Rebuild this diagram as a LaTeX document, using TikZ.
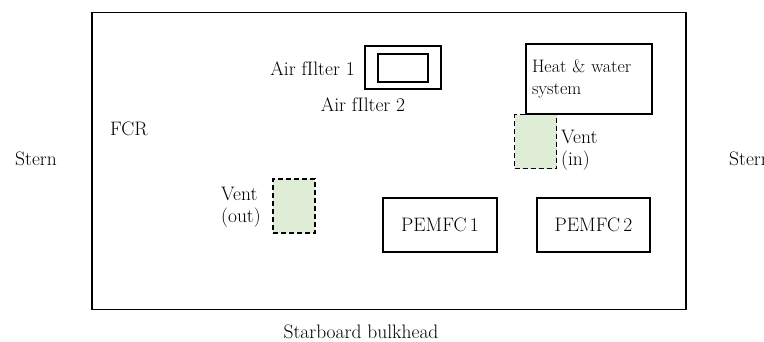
\documentclass[tikz,border=0pt]{standalone}
\usetikzlibrary{positioning}
\definecolor{ventgreen}{RGB}{223,237,215}
\begin{document}
\begin{tikzpicture}[x=1pt,y=-1pt,
  every node/.style={font=\fontsize{19.5}{22}\selectfont, inner sep=0pt},
  unit/.style={draw, line width=1.3pt, minimum width=#1},
  vent/.style={draw, dashed, dash pattern=on 5pt off 3pt, line width=1.4pt, fill=ventgreen,
               minimum width=42pt, minimum height=54pt},
  lbl/.style={align=left}]
  \useasboundingbox (0,0) rectangle (764,342);

  % compartment outline
  \node[draw, line width=1.5pt, minimum width=594pt, minimum height=297pt] (room) at (389,161) {};

  % surroundings
  \node (sternL) at (36,159) {Stern};
  \node[anchor=west] (sternR) at (729,159) {Stern};
  \node (stbd) at (361,332) {Starboard bulkhead};
  \node[anchor=west] (fcr) at (110,129) {FCR};

  % air filters
  \node[unit=76pt, minimum height=43pt] (af1) at (403,67.5) {};
  \node[unit=50pt, minimum height=28pt] (af2) at (403,68) {};
  \node[anchor=east] (af1t) at (355,69) {Air fIlter 1};
  \node (af2t) at (363,105) {Air fIlter 2};

  % heat and water system
  \node[unit=126pt, minimum height=70pt, align=left, text width=114pt, inner xsep=6pt,
        font=\fontsize{18}{22}\selectfont] (hws) at (589,79)
    {Heat \& water\\system};

  % vents
  \node[vent, anchor=north west] (ventin) at (514,114) {};
  \node[lbl, anchor=west] (ventint) at (561,150) {Vent\\(in)};
  \node[vent] (ventout) at (294,206) {};
  \node[lbl, anchor=east] (ventoutt) at (261,207) {Vent\\(out)};

  % fuel cell stacks
  \node[unit=114pt, minimum height=54pt] (pem1) at (440,225) {PEMFC\,1};
  \node[unit=113pt, minimum height=54pt] (pem2) at (593.5,225) {PEMFC\,2};
\end{tikzpicture}
\end{document}
